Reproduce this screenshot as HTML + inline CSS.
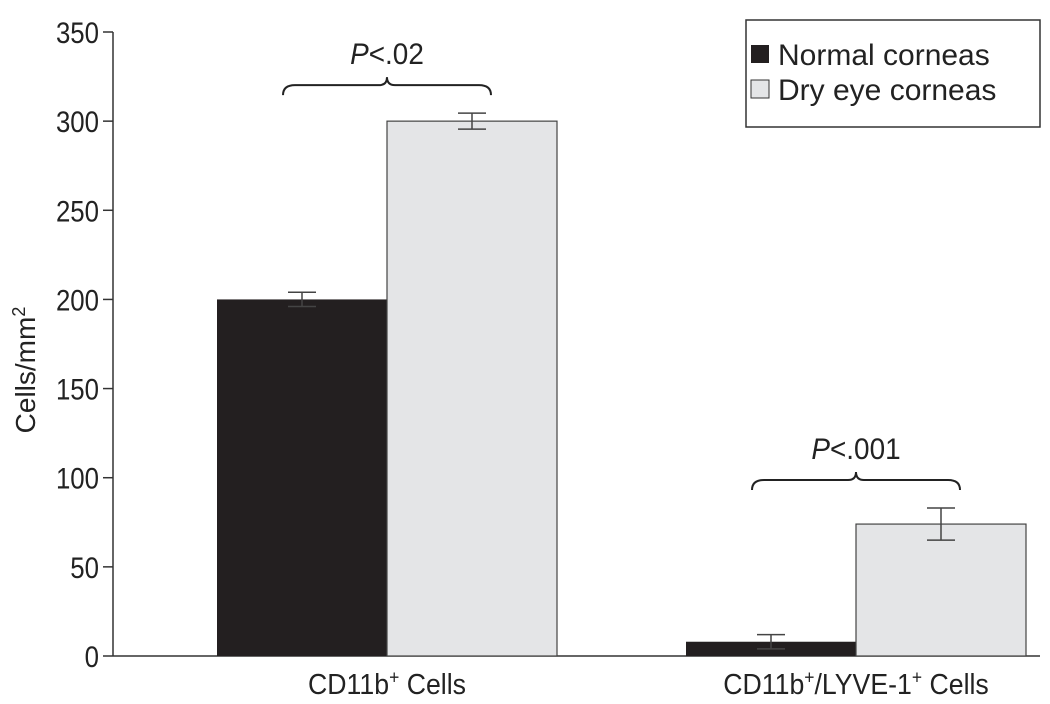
<!DOCTYPE html>
<html><head><meta charset="utf-8"><style>
body{margin:0;background:#fff}
svg{display:block;font-family:"Liberation Sans Narrow","Liberation Sans",sans-serif}
</style></head><body>
<svg id="chart" width="1050" height="704" viewBox="0 0 1050 704">
<g id="g"></g>
<g>
<rect x="746" y="20" width="294" height="107" fill="#fff" stroke="#333" stroke-width="1.5"/>
<rect x="751" y="45" width="18" height="18" fill="#231f20"/>
<text transform="translate(778,65)" font-size="30" fill="#222">Normal corneas</text>
<rect x="751" y="80" width="18" height="18" fill="#e4e5e7" stroke="#333"/>
<text transform="translate(778,100)" font-size="30" fill="#222">Dry eye corneas</text>
</g>
<text transform="translate(35,370) rotate(-90)" text-anchor="middle" font-size="28" fill="#222">Cells/mm<tspan baseline-shift="super" font-size="18">2</tspan></text>
</svg>
<script>
const categories=["CD11b+ Cells","CD11b+/LYVE-1+ Cells"];
const normalVals=[200,8];
const normalErr=[4,4];
const dryVals=[300,74];
const dryErr=[4.5,9];
const yTicks=[0,50,100,150,200,250,300,350];
const pLabels=["P<.02","P<.001"];

const NS="http://www.w3.org/2000/svg";
const g=document.getElementById('g');
const y=v=>656-v*(624/350);
const groupCenter=[387,856], barW=170;
function mk(t,a){const e=document.createElementNS(NS,t);for(const k in a)e.setAttribute(k,a[k]);g.appendChild(e);return e;}
function txt(x,yy,anchor,size,sx,html){
  const e=mk('text',{transform:`translate(${x},${yy}) scale(${sx},1)`,'text-anchor':anchor,'font-size':size,fill:'#222'});
  e.innerHTML=html;return e;
}
let ax=mk('line',{x1:113,y1:32,x2:113,y2:656,stroke:'#333','stroke-width':1.5});


let bx=mk('line',{x1:113,y1:656,x2:1040,y2:656,stroke:'#333','stroke-width':1.5});


yTicks.forEach(t=>{
  let l=mk('line',{x1:103,x2:113,y1:y(t),y2:y(t),stroke:'#333','stroke-width':1.5});
  
  
  let tx=txt(99,y(t)+11,'end',30,0.86,String(t));
  
  
});
function err(cx,v,e){
  const p=mk('path',{d:`M${cx-14},${y(v+e)}H${cx+14}M${cx},${y(v+e)}V${y(v-e)}M${cx-14},${y(v-e)}H${cx+14}`,stroke:'#444','stroke-width':1.5,fill:'none'});
  
  
}
categories.forEach((c,i)=>{
  const cx=groupCenter[i];
  let b1=mk('rect',{x:cx-barW,y:y(normalVals[i]),width:barW,height:656-y(normalVals[i]),fill:'#231f20'});
  
  
  let b2=mk('rect',{x:cx,y:y(dryVals[i]),width:barW,height:656-y(dryVals[i]),fill:'#e4e5e7',stroke:'#444','stroke-width':1.2});
  
  
  err(cx-barW/2,normalVals[i],normalErr[i]);
  err(cx+barW/2,dryVals[i],dryErr[i]);
  const top=y(Math.max(normalVals[i]+normalErr[i],dryVals[i]+dryErr[i]))-28;
  const L=cx-104,R=cx+104;
  const br=mk('path',{d:`M${L},${top+10}Q${L},${top} ${L+12},${top}H${cx-8}Q${cx},${top} ${cx},${top-8}Q${cx},${top} ${cx+8},${top}H${R-12}Q${R},${top} ${R},${top+10}`,stroke:'#222','stroke-width':2,fill:'none'});
  
  
  const pt=txt(cx,top-21,'middle',30,0.93,'<tspan font-style="italic">P</tspan>'+pLabels[i].slice(1).replace('<','&lt;'));
  
  
  const xl=txt(cx,694,'middle',29,0.92,c.replace(/\+/g,'<tspan baseline-shift="super" font-size="19">+</tspan>'));
  
  
});
</script>
</body></html>
